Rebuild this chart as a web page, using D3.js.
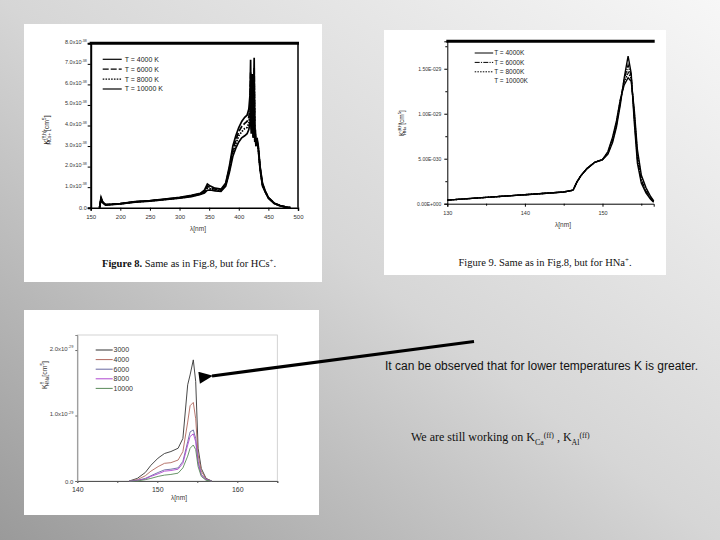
<!DOCTYPE html>
<html>
<head>
<meta charset="utf-8">
<script src="https://cdn.jsdelivr.net/npm/d3@7"></script>
<style>
body { margin: 0; }
svg { display: block; }
</style>
</head>
<body>
<script>
var w = 720, h = 540;

// ---- Figure 8 : HCs+ ----
var fig8Lambda = [165, 166, 167.5, 170, 175, 200, 225, 250, 275, 300, 320, 335, 342, 347, 352, 360, 370, 378, 384, 390, 395, 400, 405, 410, 414, 417, 419, 420, 421, 422, 423, 424, 425, 426, 427, 428, 429, 431, 433, 436, 440, 445, 450, 460, 470, 480, 487];
var fig8T4000 = [0, 0.25, 0.5, 0.3, 0.15, 0.2, 0.3, 0.35, 0.42, 0.5, 0.6, 0.7, 0.85, 1.15, 1.05, 0.95, 0.9, 1.2, 2.0, 3.0, 3.5, 3.9, 4.2, 4.4, 4.5, 4.8, 5.5, 7.2, 4.2, 5.6, 6.5, 3.8, 5.0, 7.3, 3.5, 3.8, 3.2, 3.3, 3.0, 2.0, 1.2, 0.8, 0.5, 0.22, 0.1, 0.03, 0];
var fig8T6000 = [0, 0.22, 0.45, 0.28, 0.15, 0.2, 0.29, 0.34, 0.41, 0.48, 0.58, 0.68, 0.8, 1.05, 0.98, 0.9, 0.86, 1.15, 1.9, 2.8, 3.3, 3.7, 3.95, 4.1, 4.2, 4.4, 5.0, 6.6, 4.0, 5.2, 6.0, 3.6, 4.6, 6.8, 3.4, 3.6, 3.1, 3.2, 2.9, 1.95, 1.15, 0.78, 0.48, 0.21, 0.1, 0.03, 0];
var fig8T8000 = [0, 0.2, 0.42, 0.26, 0.14, 0.19, 0.28, 0.33, 0.4, 0.47, 0.56, 0.66, 0.76, 0.95, 0.92, 0.86, 0.83, 1.1, 1.8, 2.65, 3.1, 3.5, 3.7, 3.85, 3.9, 4.1, 4.6, 6.0, 3.8, 4.8, 5.5, 3.5, 4.2, 6.2, 3.3, 3.5, 3.0, 3.2, 2.85, 1.9, 1.1, 0.76, 0.47, 0.2, 0.09, 0.03, 0];
var fig8T10000 = [0, 0.18, 0.38, 0.24, 0.13, 0.18, 0.27, 0.32, 0.39, 0.46, 0.54, 0.64, 0.72, 0.85, 0.86, 0.82, 0.8, 1.05, 1.7, 2.5, 2.9, 3.2, 3.4, 3.5, 3.6, 3.8, 4.2, 5.0, 3.6, 4.4, 4.8, 3.4, 3.9, 5.5, 3.2, 3.4, 3.0, 3.4, 2.8, 1.85, 1.05, 0.74, 0.46, 0.2, 0.09, 0.03, 0];
var fig8Names = ["T = 4000 K", "T = 6000 K", "T = 8000 K", "T = 10000 K"];
var fig8XTicks = [150, 200, 250, 300, 350, 400, 450, 500];
var fig8YTicks = [0, 1, 2, 3, 4, 5, 6, 7, 8];

// ---- Figure 9 : HNa+ (values in 1e-30) ----
var fig9Lambda = [130, 135, 140, 145, 146.2, 146.7, 147.2, 148, 149, 150, 150.7, 151.3, 151.8, 152.3, 152.8, 153.3, 153.7, 154.1, 154.5, 155, 155.6, 156.2, 156.6];
var fig9T4000 = [0.4, 0.7, 1.0, 1.3, 1.5, 2.4, 3.1, 3.9, 4.6, 4.9, 5.5, 6.8, 8.5, 11.0, 14.0, 16.4, 14.5, 9.0, 4.5, 2.3, 1.2, 0.5, 0.15];
var fig9T6000 = [0.4, 0.7, 1.0, 1.3, 1.5, 2.4, 3.1, 3.9, 4.6, 4.9, 5.6, 7.0, 8.8, 11.3, 13.8, 15.4, 14.2, 9.6, 5.0, 2.6, 1.4, 0.6, 0.2];
var fig9T8000 = [0.4, 0.7, 1.0, 1.3, 1.5, 2.4, 3.1, 3.9, 4.6, 4.9, 5.7, 7.2, 9.0, 11.5, 13.5, 14.6, 13.9, 10.0, 5.5, 2.9, 1.6, 0.7, 0.25];
var fig9T10000 = [0.4, 0.7, 1.0, 1.3, 1.5, 2.4, 3.1, 3.9, 4.6, 4.9, 5.8, 7.4, 9.2, 11.6, 13.2, 14.0, 13.6, 10.4, 6.0, 3.2, 1.8, 0.8, 0.3];
var fig9Names = ["T = 4000K", "T = 6000K", "T = 8000K", "T = 10000K"];
var fig9XTicks = [130, 140, 150];
var fig9YTicks = [0, 5, 10, 15];
var fig9YLabels = ["0.00E+000", "5.00E-030", "1.00E-029", "1.50E-029"];

// ---- bottom figure : HNa ----
var fig10Lambda = [146.5, 147.5, 148.5, 149.2, 150.1, 150.9, 151.7, 152.6, 153.2, 153.8, 154.1, 154.5, 154.8, 155.1, 155.5, 156.1, 156.8];
var fig10T3000 = [0, 0.04, 0.13, 0.24, 0.35, 0.42, 0.45, 0.5, 0.65, 1.47, 1.62, 1.85, 1.52, 0.5, 0.19, 0.04, 0];
var fig10T4000 = [0, 0.02, 0.08, 0.15, 0.22, 0.27, 0.28, 0.32, 0.45, 0.9, 1.15, 1.2, 0.95, 0.4, 0.15, 0.03, 0];
var fig10T6000 = [0, 0.01, 0.04, 0.08, 0.13, 0.17, 0.18, 0.2, 0.3, 0.6, 0.75, 0.78, 0.65, 0.3, 0.1, 0.02, 0];
var fig10T8000 = [0, 0.01, 0.03, 0.07, 0.11, 0.15, 0.16, 0.18, 0.27, 0.55, 0.68, 0.72, 0.6, 0.27, 0.09, 0.02, 0];
var fig10T10000 = [0, 0, 0.02, 0.04, 0.07, 0.09, 0.1, 0.12, 0.2, 0.38, 0.5, 0.55, 0.48, 0.22, 0.07, 0.01, 0];
var fig10Names = ["3000", "4000", "6000", "8000", "10000"];
var fig10XTicks = [140, 150, 160];
var fig10YTicks = [0, 1, 2];

var sans = "Liberation Sans, Arial, sans-serif";
var serif = "Liberation Serif, Times New Roman, serif";

var svg = d3.select("body").append("svg")
    .attr("width", w)
    .attr("height", h);

var defs = svg.append("defs");
var grad = defs.append("linearGradient").attr("id", "bg")
    .attr("x1", 0).attr("y1", 1).attr("x2", 1).attr("y2", 0);
grad.append("stop").attr("offset", 0).attr("stop-color", "#9a9a9a");
grad.append("stop").attr("offset", 0.5).attr("stop-color", "#d6d6d6");
grad.append("stop").attr("offset", 1).attr("stop-color", "#f7f7f7");
svg.append("rect").attr("width", w).attr("height", h).attr("fill", "url(#bg)");

defs.append("marker").attr("id", "head")
    .attr("markerUnits", "userSpaceOnUse")
    .attr("markerWidth", 15).attr("markerHeight", 12)
    .attr("refX", 1).attr("refY", 6)
    .attr("orient", "auto")
    .append("path").attr("d", "M14,0 L0,6 L14,12 Z").attr("fill", "#000");

// white panels
svg.append("rect").attr("x", 24).attr("y", 24).attr("width", 298).attr("height", 258).attr("fill", "#fff");
svg.append("rect").attr("x", 384).attr("y", 30).attr("width", 282).attr("height", 245).attr("fill", "#fff");
svg.append("rect").attr("x", 24).attr("y", 310).attr("width", 295).attr("height", 205).attr("fill", "#fff");

// text with sub/superscripts
function richText(sel, parts, size, supShift) {
    var base = 0;
    var up = supShift || 0.4;
    parts.forEach(function(p) {
        var off = p.sup ? -size * up : (p.sub ? size * 0.3 : 0);
        var ts = sel.append("tspan").attr("dy", off - base).text(p.t);
        if (p.sup || p.sub) ts.attr("font-size", size * 0.65);
        if (p.dx) ts.attr("dx", p.dx);
        if (p.bold) ts.attr("font-weight", "bold");
        base = off;
    });
}

function zip(xs, ys) {
    return xs.map(function(x, i) { return [x, ys[i]]; });
}

// ================= Figure 8 =================
var x1 = d3.scaleLinear().domain([150, 500]).range([90.7, 298]);
var y1 = d3.scaleLinear().domain([0, 8]).range([207.7, 43.3]);
var g1 = svg.append("g");

var ax1 = g1.append("g").attr("transform", "translate(0," + y1(0) + ")")
    .call(d3.axisBottom(x1).tickValues(fig8XTicks).tickSize(3).tickFormat(d3.format("d")));
ax1.select(".domain").attr("stroke-width", 1.5);
ax1.selectAll("text").attr("font-size", 6).attr("font-family", sans).attr("fill", "#333").attr("dy", "0.9em");

var ay1 = g1.append("g").attr("transform", "translate(" + x1(150) + ",0)")
    .call(d3.axisLeft(y1).tickValues(fig8YTicks).tickSize(3).tickFormat(""));
ay1.select(".domain").attr("stroke-width", 2);
ay1.selectAll(".tick").append("text")
    .attr("x", -4).attr("dy", "0.35em")
    .attr("text-anchor", "end")
    .attr("font-size", 5.5).attr("font-family", sans).attr("fill", "#333")
    .each(function(d) {
        if (d === 0) d3.select(this).text("0.0");
        else richText(d3.select(this), [{t: d.toFixed(1) + "x10"}, {t: "-38", sup: true}], 5.5);
    });

g1.append("line").attr("x1", x1(150) - 1).attr("x2", x1(500) + 1)
    .attr("y1", y1(8)).attr("y2", y1(8)).attr("stroke", "#000").attr("stroke-width", 3);
g1.append("line").attr("x1", x1(500)).attr("x2", x1(500))
    .attr("y1", y1(8)).attr("y2", y1(0)).attr("stroke", "#000").attr("stroke-width", 1.5);

var fig8Series = [fig8T4000, fig8T6000, fig8T8000, fig8T10000];
var fig8Dash = ["", "6,2", "1.6,1.2", ""];
var line1 = d3.line().x(function(d) { return x1(d[0]); }).y(function(d) { return y1(d[1]); });
g1.selectAll("path.s").data(fig8Series).enter().append("path")
    .attr("class", "s")
    .attr("d", function(d) { return line1(zip(fig8Lambda, d)); })
    .attr("fill", "none").attr("stroke", "#000").attr("stroke-width", 1.7)
    .attr("stroke-dasharray", function(d, i) { return fig8Dash[i]; });

var leg1 = g1.selectAll("g.leg").data(fig8Names).enter().append("g")
    .attr("transform", function(d, i) { return "translate(102.7," + (59.3 + i * 9.9) + ")"; });
leg1.append("line").attr("x1", 0).attr("x2", 19)
    .attr("stroke", "#000").attr("stroke-width", 1.2)
    .attr("stroke-dasharray", function(d, i) { return fig8Dash[i]; });
leg1.append("text").attr("x", 22).attr("dy", "0.35em")
    .attr("font-size", 7).attr("font-family", sans).attr("fill", "#222")
    .text(function(d) { return d; });

richText(g1.append("text").attr("transform", "translate(49,130) rotate(-90)")
    .attr("text-anchor", "middle").attr("font-size", 7).attr("font-family", sans).attr("fill", "#222"),
    [{t: "K"}, {t: "(ff,h)", sup: true}, {t: "HCs+", sub: true, dx: -14}, {t: " [cm"}, {t: "5", sup: true}, {t: "]"}], 7);

g1.append("text").attr("x", 198).attr("y", 231).attr("text-anchor", "middle")
    .attr("font-size", 6.5).attr("font-family", sans).attr("fill", "#333").text("λ[nm]");

richText(g1.append("text").attr("x", 189).attr("y", 267).attr("text-anchor", "middle")
    .attr("font-size", 10.5).attr("font-family", serif).attr("fill", "#111"),
    [{t: "Figure 8.", bold: true}, {t: " Same as in Fig.8, but for HCs"}, {t: "+", sup: true}, {t: "."}], 10.5);

// ================= Figure 9 =================
var x2 = d3.scaleLinear().domain([130, 156.6]).range([447.3, 653.7]);
var y2 = d3.scaleLinear().domain([0, 18.05]).range([203.7, 41.3]);
var g2 = svg.append("g");

var ax2 = g2.append("g").attr("transform", "translate(0," + y2(0) + ")")
    .call(d3.axisBottom(x2).tickValues(fig9XTicks).tickSize(3).tickFormat(d3.format("d")));
ax2.selectAll("text").attr("font-size", 5.5).attr("font-family", sans).attr("fill", "#333").attr("dy", "0.9em");
g2.append("g").attr("transform", "translate(0," + y2(0) + ")")
    .call(d3.axisBottom(x2).tickValues([135, 145, 155]).tickSize(2).tickFormat(""))
    .select(".domain").remove();

var ay2 = g2.append("g").attr("transform", "translate(" + x2(130) + ",0)")
    .call(d3.axisLeft(y2).tickValues(fig9YTicks).tickSize(3)
        .tickFormat(function(d, i) { return fig9YLabels[i]; }));
ay2.selectAll("text").attr("font-size", 5).attr("font-family", sans).attr("fill", "#333");
g2.append("g").attr("transform", "translate(" + x2(130) + ",0)")
    .call(d3.axisLeft(y2).tickValues([2.5, 7.5, 12.5, 17.5]).tickSize(2).tickFormat(""))
    .select(".domain").remove();

g2.append("line").attr("x1", x2(130) - 1).attr("x2", x2(156.6) + 1)
    .attr("y1", y2(18.05)).attr("y2", y2(18.05)).attr("stroke", "#000").attr("stroke-width", 3);

var fig9Series = [fig9T4000, fig9T6000, fig9T8000, fig9T10000];
var fig9Dash = ["", "5,1.2,1.2,1.2", "1.5,1.2", ""];
var line2 = d3.line().x(function(d) { return x2(d[0]); }).y(function(d) { return y2(d[1]); });
g2.selectAll("path.s").data(fig9Series).enter().append("path")
    .attr("class", "s")
    .attr("d", function(d) { return line2(zip(fig9Lambda, d)); })
    .attr("fill", "none").attr("stroke", "#000").attr("stroke-width", 1.4)
    .attr("stroke-dasharray", function(d, i) { return fig9Dash[i]; });

var leg2 = g2.selectAll("g.leg").data(fig9Names).enter().append("g")
    .attr("transform", function(d, i) { return "translate(474.7," + (53 + i * 9.4) + ")"; });
leg2.filter(function(d, i) { return i < 3; }).append("line").attr("x1", 0).attr("x2", 18.5)
    .attr("stroke", "#000").attr("stroke-width", 1)
    .attr("stroke-dasharray", function(d, i) { return fig9Dash[i]; });
leg2.append("text").attr("x", 19.5).attr("dy", "0.35em")
    .attr("font-size", 6.5).attr("font-family", sans).attr("fill", "#222")
    .text(function(d) { return d; });

richText(g2.append("text").attr("transform", "translate(404,123) rotate(-90)")
    .attr("text-anchor", "middle").attr("font-size", 6.5).attr("font-family", sans).attr("fill", "#222"),
    [{t: "K"}, {t: "(ff,h)", sup: true}, {t: "HNa", sub: true, dx: -12}, {t: "  [cm"}, {t: "5", sup: true}, {t: "]"}], 6.5);

g2.append("text").attr("x", 563).attr("y", 227).attr("text-anchor", "middle")
    .attr("font-size", 6.5).attr("font-family", sans).attr("fill", "#333").text("λ[nm]");

richText(g2.append("text").attr("x", 545).attr("y", 266).attr("text-anchor", "middle")
    .attr("font-size", 10.5).attr("font-family", serif).attr("fill", "#111"),
    [{t: "Figure 9."}, {t: " Same as in Fig.8, but for HNa"}, {t: "+", sup: true}, {t: "."}], 10.5);

// ================= bottom figure =================
var x3 = d3.scaleLinear().domain([140, 165]).range([77.3, 277.3]);
var y3 = d3.scaleLinear().domain([0, 2.23]).range([481, 335]);
var g3 = svg.append("g");

g3.append("rect").attr("x", x3(140)).attr("y", y3(2.23))
    .attr("width", x3(165) - x3(140)).attr("height", y3(0) - y3(2.23))
    .attr("fill", "none").attr("stroke", "#c8c8c8").attr("stroke-width", 0.8);

var ax3 = g3.append("g").attr("transform", "translate(0," + y3(0) + ")")
    .call(d3.axisBottom(x3).tickValues([140, 145, 150, 155, 160, 165]).tickSize(2)
        .tickFormat(function(d) { return fig10XTicks.indexOf(d) >= 0 ? d : ""; }));
ax3.select(".domain").attr("stroke", "#555");
ax3.selectAll("line").attr("stroke", "#555");
ax3.selectAll("text").attr("font-size", 7).attr("font-family", sans).attr("fill", "#333").attr("dy", "0.85em");

var ay3 = g3.append("g").attr("transform", "translate(" + x3(140) + ",0)")
    .call(d3.axisLeft(y3).tickValues(fig10YTicks).tickSize(2).tickFormat(""));
ay3.select(".domain").attr("stroke", "#888");
ay3.selectAll("line").attr("stroke", "#666");
ay3.selectAll(".tick").append("text")
    .attr("x", -4).attr("dy", "0.35em").attr("text-anchor", "end")
    .attr("font-size", 6).attr("font-family", sans).attr("fill", "#444")
    .each(function(d) {
        if (d === 0) d3.select(this).text("0.0");
        else richText(d3.select(this), [{t: d.toFixed(1) + "x10"}, {t: "-29", sup: true}], 6);
    });

var fig10Series = [fig10T3000, fig10T4000, fig10T6000, fig10T8000, fig10T10000];
var fig10Colors = ["#333333", "#b0685e", "#6868a0", "#b048d0", "#5a8a5a"];
var line3 = d3.line().x(function(d) { return x3(d[0]); }).y(function(d) { return y3(d[1]); });
g3.selectAll("path.s").data(fig10Series).enter().append("path")
    .attr("class", "s")
    .attr("d", function(d) { return line3(zip(fig10Lambda, d)); })
    .attr("fill", "none").attr("stroke-width", 0.9)
    .attr("stroke", function(d, i) { return fig10Colors[i]; });

var leg3 = g3.selectAll("g.leg").data(fig10Names).enter().append("g")
    .attr("transform", function(d, i) { return "translate(95.7," + (350 + i * 9.6) + ")"; });
leg3.append("line").attr("x1", 0).attr("x2", 17)
    .attr("stroke-width", 1)
    .attr("stroke", function(d, i) { return fig10Colors[i]; });
leg3.append("text").attr("x", 17.8).attr("dy", "0.35em")
    .attr("font-size", 7).attr("font-family", sans).attr("fill", "#333")
    .text(function(d) { return d; });

richText(g3.append("text").attr("transform", "translate(47,375) rotate(-90)")
    .attr("text-anchor", "middle").attr("font-size", 7).attr("font-family", sans).attr("fill", "#333"),
    [{t: "K"}, {t: "ff", sup: true}, {t: "HNa", sub: true, dx: -4}, {t: "[cm"}, {t: "5", sup: true}, {t: "]"}], 7);

g3.append("text").attr("x", 179).attr("y", 500).attr("text-anchor", "middle")
    .attr("font-size", 6.5).attr("font-family", sans).attr("fill", "#333").text("λ[nm]");

// ================= arrow and notes =================
svg.append("line").attr("x1", 474).attr("y1", 341.5).attr("x2", 212).attr("y2", 376)
    .attr("stroke", "#000").attr("stroke-width", 3.2)
    .attr("marker-end", "url(#head)");

svg.append("text").attr("x", 385).attr("y", 370)
    .attr("font-size", 12).attr("font-family", sans).attr("fill", "#111")
    .attr("textLength", 313).attr("lengthAdjust", "spacingAndGlyphs")
    .text("It can be observed that for lower temperatures K is greater.");

richText(svg.append("text").attr("x", 411).attr("y", 441)
    .attr("font-size", 12).attr("font-family", serif).attr("fill", "#111"),
    [{t: "We are still working on K"}, {t: "Ca", sub: true}, {t: "(ff)", sup: true}, {t: " , K"}, {t: "Al", sub: true}, {t: "(ff)", sup: true}], 12, 0.25);
</script>
</body>
</html>
